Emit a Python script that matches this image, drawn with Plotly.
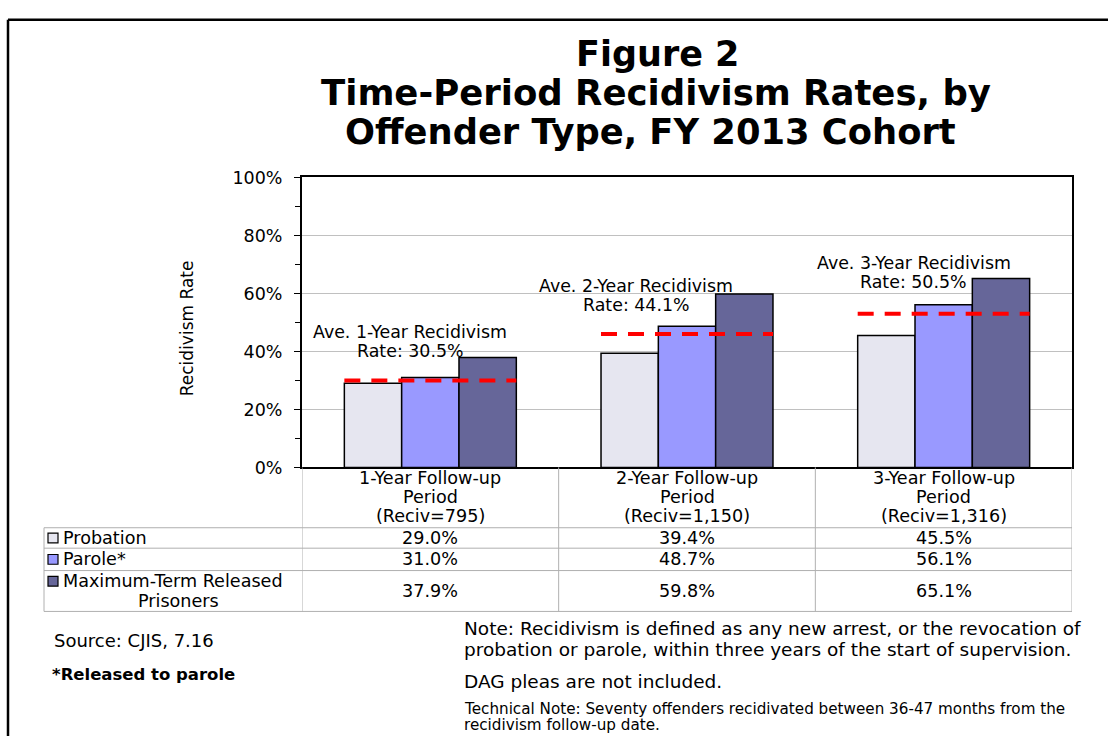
import plotly.graph_objects as go

# ---------------- data ----------------
period_labels = ["1-Year Follow-up", "2-Year Follow-up", "3-Year Follow-up"]
reciv_counts = ["795", "1,150", "1,316"]
avg_years = ["1", "2", "3"]
series_names = ["Probation", "Parole*", "Maximum-Term Released Prisoners"]
probation = [29.0, 39.4, 45.5]
parole = [31.0, 48.7, 56.1]
max_term = [37.9, 59.8, 65.1]
avg_rates = [30.5, 44.1, 50.5]          # values stated in the labels
avg_line_levels = [30.0, 46.0, 53.0]    # levels at which the dashed lines are drawn
y_ticks = [0, 20, 40, 60, 80, 100]

# ---------------- styling ----------------
W, H = 1108, 746
FONT = "DejaVu Sans"
colors = ["#E6E6F0", "#9999FF", "#666699"]
GRID = "#C0C0C0"
TBL = "#B0B0B0"

PL, PR, PT, PB = 302, 1072, 172, 470   # plot area in pixels


def fx(x):
    return x / W


def fy(y):
    return 1 - y / H


xs = list(range(len(period_labels)))
series = [probation, parole, max_term]

fig = go.Figure()
for name, vals, col in zip(series_names, series, colors):
    fig.add_trace(go.Bar(
        x=xs, y=vals, name=name,
        marker=dict(color=col, line=dict(color="black", width=1.5)),
        showlegend=False, hoverinfo="skip"))

half = 0.335
lx, ly = [], []
for i, lvl in zip(xs, avg_line_levels):
    lx += [i - half, i + half, None]
    ly += [lvl, lvl, None]
fig.add_trace(go.Scatter(x=lx, y=ly, mode="lines",
                         line=dict(color="#FF0000", width=4, dash="16px,11px"),
                         showlegend=False, hoverinfo="skip"))

annotations = []
shapes = []


def ann(text, x, y, size, xanchor="center", bold=False, xref="paper", xshift=0, color="black", family=FONT):
    if bold:
        text = "<b>" + text + "</b>"
    annotations.append(dict(
        text=text, x=x, y=fy(y), xref=xref, yref="paper",
        xanchor=xanchor, yanchor="middle", showarrow=False, xshift=xshift,
        font=dict(family=family, size=size, color=color)))


# title
ann("Figure 2", fx(657), 45, 35, bold=True)
ann("Time-Period Recidivism Rates, by", fx(656), 85, 35.5, bold=True)
ann("Offender Type, FY 2013 Cohort", fx(650), 125, 35.3, bold=True)

# y-axis title
annotations.append(dict(text="Recidivism Rate", x=fx(187), y=fy(327), xref="paper", yref="paper",
                        textangle=-90, showarrow=False, xanchor="center", yanchor="middle",
                        font=dict(family=FONT, size=17, color="black")))

# average labels
avg_pos = [(-20, 330.5, 350.5), (-51, 283.5, 303.5), (-30, 259.5, 279.5)]
for i, (yr, rate, (xs_, y1, y2)) in enumerate(zip(avg_years, avg_rates, avg_pos)):
    ann(f"Ave. {yr}-Year Recidivism", i, y1, 17.4, xref="x", xshift=xs_)
    ann(f"Rate: {rate:.1f}%", i, y2, 17.4, xref="x", xshift=xs_)

# ---------------- data table ----------------
TS = 17.6
row_lines = [532, 553, 576, 618]
for i, (pl, rc) in enumerate(zip(period_labels, reciv_counts)):
    ann(pl, i, 480.5, TS, xref="x")
    ann("Period", i, 500, TS, xref="x")
    ann(f"(Reciv={rc})", i, 519.5, TS, xref="x")

row_centers = [542.5, 564.5, 597]
for vals, yc in zip(series, row_centers):
    for i, v in enumerate(vals):
        ann(f"{v:.1f}%", i, yc, TS, xref="x")

# row labels with legend keys
ann(series_names[0], fx(61), 542.5, TS, xanchor="left")
ann(series_names[1], fx(61), 564.5, TS, xanchor="left")
ann("Maximum-Term Released", fx(61), 587, TS, xanchor="left")
ann("Prisoners", fx(178), 607, TS)
for col, yc in zip(colors, [542.5, 564.5, 587]):
    shapes.append(dict(type="rect", xref="paper", yref="paper",
                       x0=fx(48), x1=fx(58), y0=fy(yc + 5), y1=fy(yc - 5),
                       fillcolor=col, line=dict(color="black", width=1.2), layer="above"))

# table grid
for yl in row_lines:
    shapes.append(dict(type="line", xref="paper", yref="paper", x0=fx(44), x1=fx(PR),
                       y0=fy(yl), y1=fy(yl), line=dict(color=TBL, width=1)))
shapes.append(dict(type="line", xref="paper", yref="paper", x0=fx(44), x1=fx(44),
                   y0=fy(532), y1=fy(618), line=dict(color=TBL, width=1)))
for b in [-0.5, 0.5, 1.5, 2.5]:
    shapes.append(dict(type="line", xref="x", yref="paper", x0=b, x1=b,
                       y0=fy(PB), y1=fy(618), line=dict(color=TBL, width=1)))

# page frame
shapes.append(dict(type="line", xref="paper", yref="paper", x0=fx(8), x1=fx(8),
                   y0=fy(10), y1=0, line=dict(color="black", width=2.5)))
shapes.append(dict(type="line", xref="paper", yref="paper", x0=fx(8), x1=1,
                   y0=fy(10), y1=fy(10), line=dict(color="black", width=2.5)))

# footnotes
ann("Source: CJIS, 7.16", fx(52), 648, 18, xanchor="left")
ann("*Released to parole", fx(50), 683, 16.5, xanchor="left", bold=True)
ann("Note: Recidivism is defined as any new arrest, or the revocation of", fx(462), 636, 18.5, xanchor="left")
ann("probation or parole, within three years of the start of supervision.", fx(462), 657, 18.5, xanchor="left")
ann("DAG pleas are not included.", fx(462), 690, 18.5, xanchor="left")
ann("Technical Note: Seventy offenders recidivated between 36-47 months from the", fx(462), 718, 15.2, xanchor="left")
ann("recidivism follow-up date.", fx(462), 735, 15.2, xanchor="left")

fig.update_layout(
    width=W, height=H, margin=dict(l=0, r=0, t=0, b=0),
    paper_bgcolor="white", plot_bgcolor="white",
    barmode="group", bargap=0.33, bargroupgap=0,
    showlegend=False,
    font=dict(family=FONT, color="black"),
    xaxis=dict(domain=[fx(PL), fx(PR)], range=[-0.5, 2.5], showticklabels=False,
               showgrid=False, zeroline=False, showline=True, linecolor="black",
               linewidth=2, mirror=True, ticks=""),
    yaxis=dict(domain=[fy(PB), fy(PT)], range=[0, 100], tickvals=y_ticks,
               ticktext=[f"{t}%" for t in y_ticks], ticks="outside", ticklen=6,
               tickcolor="black", tickwidth=1, showline=True, linecolor="black",
               linewidth=2, mirror=True, showgrid=True, gridcolor=GRID, gridwidth=1,
               zeroline=False, ticklabelstandoff=8,
               tickfont=dict(family=FONT, size=17.5, color="black"),
               minor=dict(dtick=10, tick0=0, ticks="outside", ticklen=5,
                          tickcolor="black", showgrid=False)),
    annotations=annotations, shapes=shapes,
)

fig.write_html("out.html")
